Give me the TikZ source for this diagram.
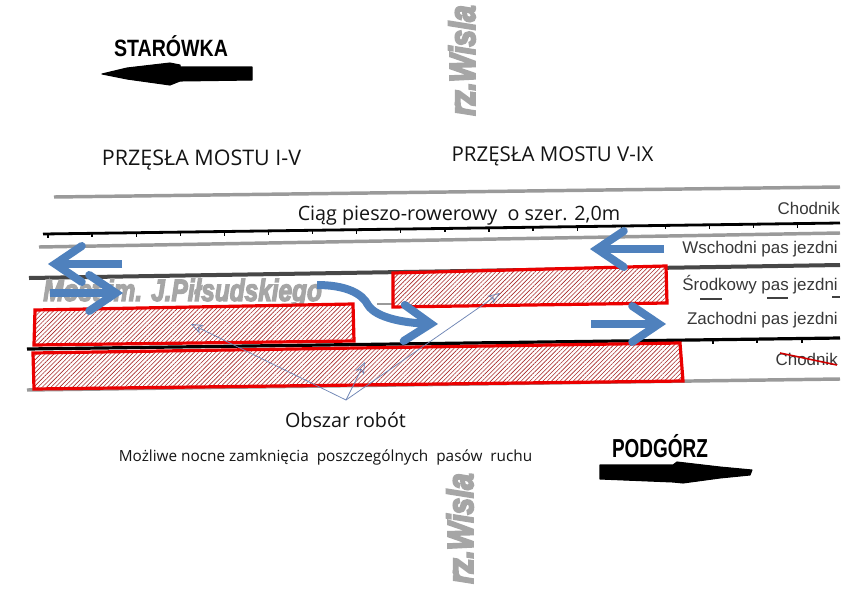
\documentclass[tikz,border=0pt]{standalone}
\usepackage{fontspec}
\usepackage{graphicx}
\setmainfont{Open Sans}
\newfontfamily\arialf{Liberation Sans}
\newfontfamily\wislaf[FakeBold=6]{Liberation Sans Bold Italic}
\newfontfamily\mostf[FakeBold=4.5]{Liberation Sans Bold Italic}
\usetikzlibrary{arrows.meta,patterns.meta}
\definecolor{arrowblue}{HTML}{4F81BD}
\definecolor{thinblue}{HTML}{6E85B5}
\definecolor{roadgrey}{HTML}{9A9A9A}
\definecolor{textgrey}{HTML}{A6A6A6}
\definecolor{hatchred}{HTML}{A82A2A}
\tikzset{
  x=0.75pt,y=-0.75pt,
  greyline/.style={draw=roadgrey,line width=2.6pt},
  blackline/.style={draw=black,line width=2.1pt},
  darkline/.style={draw=black!72,line width=3pt},
  dashmark/.style={draw=black!75,line width=1.2pt},
  tickmark/.style={draw=black,line width=1pt},
  workzone/.style={draw=red!92!black,line width=2.4pt,line join=miter,
    preaction={fill=white},
    pattern={Lines[angle=45,distance=2.3pt,line width=0.45pt]},pattern color=hatchred},
  flow/.style={draw=arrowblue,line width=6pt,
    -{Straight Barb[line cap=round,line join=miter,length=20pt,width=27pt,line width=6pt]}},
  pointer/.style={draw=thinblue,line width=0.55pt,-{Stealth[fill=none,length=9pt,width=7pt,inset=2.5pt]}},
  bigarrow/.style={fill=black,draw=black,line width=0.8pt,line join=round},
  body/.style={inner sep=0pt,text=black!92},
  road/.style={inner sep=0pt,font=\arialf\fontsize{12.7}{14}\selectfont,text=black!78,anchor=east},
  place/.style={inner sep=0pt,font=\arialf\bfseries,text=black},
  river/.style={inner sep=0pt,rotate=90,font=\wislaf\fontsize{27}{30}\selectfont,text=textgrey},
}
\begin{document}
\begin{tikzpicture}
\useasboundingbox (0,0) rectangle (851,590);
\fill[white] (0,0) rectangle (851,590);

% roadway lines
\draw[greyline] (54,197) -- (840,187);
\draw[blackline] (43,234) -- (840,223);
\draw[greyline] (39,247) -- (840,233);
\draw[darkline] (29,278) -- (840,265);
\draw[dashmark] (700,299) -- (722,299) (767,298) -- (788,298) (832,297) -- (840,297);
\draw[draw=roadgrey,line width=1pt] (377,304) -- (392,304);
\draw[blackline,line width=2.4pt] (27,349) -- (840,338);
\draw[greyline] (27,390) -- (840,379);
\foreach \t in {48,92.1,...,840}{
  \pgfmathsetmacro{\yy}{234-0.0138*(\t-43)}
  \draw[tickmark] (\t,\yy) -- (\t,\yy+4);
}
\foreach \t in {713,757,802}{
  \pgfmathsetmacro{\yy}{349-0.0135*(\t-27)}
  \draw[tickmark] (\t,\yy) -- (\t,\yy+4);
}

% road labels
\node[road] (chodnikN) at (840,208) {Chodnik};
\node[road] (wschodni) at (838,249.5) {Wschodni pas jezdni};
\node[road] (srodkowy) at (838,285) {Środkowy pas jezdni};
\node[road] (zachodni) at (838,320.5) {Zachodni pas jezdni};
\node[road] (chodnikS) at (838,359) {Chodnik};
\draw[draw=red!80!black,line width=1.2pt] (780,353) -- (837,365);

% bridge name
\node[inner sep=0pt,anchor=west,text=textgrey,font=\mostf\fontsize{23}{26}\selectfont] (most) at (43,293) {\scalebox{0.795}[1]{Most im. J.Piłsudskiego}};

% work zones
\draw[workzone] (35,310) -- (353,304) -- (354,341) -- (34,345) -- cycle;
\draw[workzone] (33,353) -- (680,343) -- (683,381) -- (34,389) -- cycle;
\draw[workzone] (393,273) -- (666,266) -- (667,303) -- (393,307) -- cycle;

% traffic arrows
\coordinate (a1s) at (122,264); \coordinate (a1e) at (48,264);
\coordinate (a2s) at (50,293);  \coordinate (a2e) at (123,293);
\coordinate (a3s) at (317,285); \coordinate (a3e) at (438,324);
\coordinate (a4s) at (664,249); \coordinate (a4e) at (590,249);
\coordinate (a5s) at (591,324); \coordinate (a5e) at (666,324);
\draw[flow] (a1s) -- (a1e);
\draw[flow] (a2s) -- (a2e);
\draw[flow] (a3s) .. controls (345,285) and (362,293) .. (368,305) .. controls (376,318) and (405,323) .. (a3e);
\draw[flow] (a4s) -- (a4e);
\draw[flow] (a5s) -- (a5e);

% headings
\node[body,font=\fontsize{16.1}{19}\selectfont] (przI) at (201.5,160) {PRZĘSŁA MOSTU I-V};
\node[body,font=\fontsize{15.35}{19}\selectfont] (przV) at (552.5,156) {PRZĘSŁA MOSTU V-IX};
\node[body,font=\fontsize{14.8}{17}\selectfont] (ciag) at (459,216) {Ciąg pieszo-rowerowy\ \ o szer. 2,0m};
\node[body,font=\fontsize{14.8}{17}\selectfont] (obszar) at (345.5,420) {Obszar robót};
\node[body,font=\fontsize{11.5}{14}\selectfont] (mozliwe) at (325.5,457) {Możliwe nocne zamknięcia\ \ poszczególnych\ \ pasów\ \ ruchu};

% pointers
\coordinate (p1) at (191,324); \coordinate (p2) at (365,362); \coordinate (p3) at (500,293);
\coordinate (o) at (346,400);
\draw[pointer] (o) -- (p1);
\draw[pointer] (o) -- (p2);
\draw[pointer] (o) -- (p3);

% direction labels and arrows
\node[place,font=\arialf\bfseries\fontsize{17.7}{20}\selectfont] (star) at (171,46) {\scalebox{0.83}[1]{STARÓWKA}};
\draw[bigarrow] (102,74) -- (127,68) -- (170,63) -- (180,65) -- (180,67) -- (252,67) -- (252,80) -- (180,81) -- (170,85) -- (127,79) -- cycle;
\node[place,font=\arialf\bfseries\fontsize{19.5}{22}\selectfont] (pod) at (660,446) {\scalebox{0.73}[1]{PODGÓRZ}};
\draw[bigarrow] (600,465) -- (673,465) -- (677,462) -- (720,467) -- (752,470) -- (750,475) -- (720,478) -- (683,483) -- (673,482) -- (600,479) -- cycle;

% river
\node[river] (r1) at (462,60.5) {\scalebox{0.82}[1]{r\kern-1pt z.Wisla}};
\node[river] (r2) at (460,528.5) {\scalebox{0.82}[1]{r\kern-1pt z.Wisla}};
\end{tikzpicture}
\end{document}
